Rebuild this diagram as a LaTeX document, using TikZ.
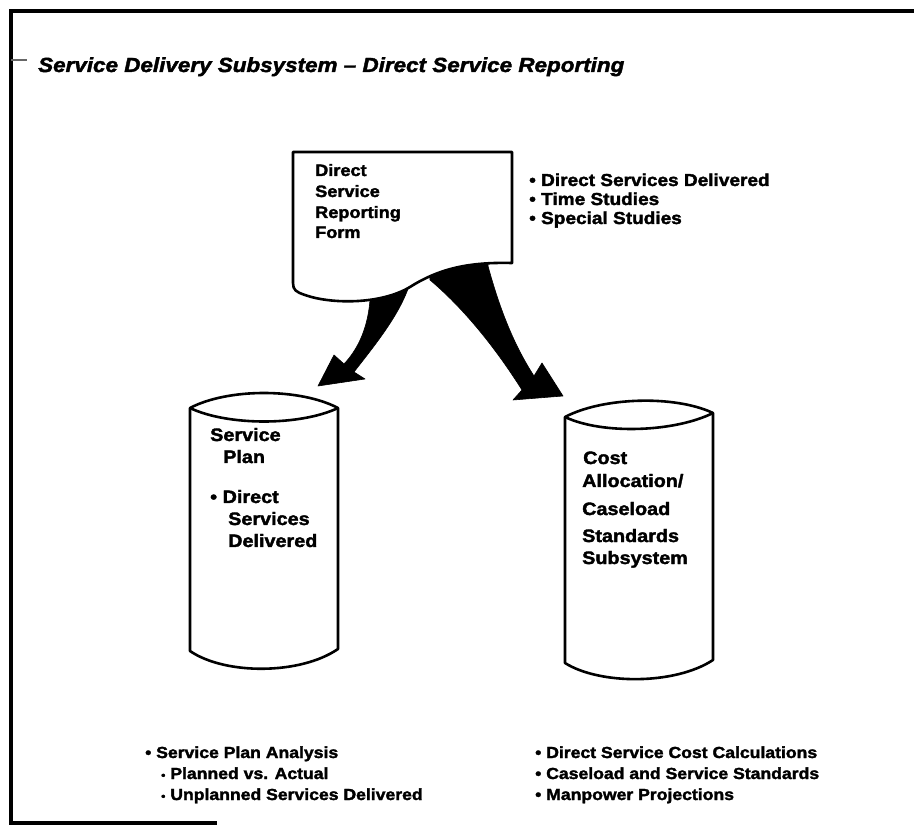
\documentclass[tikz,border=0pt]{standalone}
\usepackage{fontspec}
\setmainfont{Liberation Sans}[BoldFeatures={FakeStretch=1.1,FakeBold=2},BoldItalicFeatures={FakeStretch=1.1,FakeBold=2}]
\usetikzlibrary{arrows.meta}
\begin{document}
\begin{tikzpicture}[x=1pt,y=-1pt,
  outline/.style={line width=2.6pt,line join=round},
  framerule/.style={line width=3.2pt},
  boxtxt/.style={anchor=base west,inner sep=0pt,font=\bfseries\fontsize{18}{20}\selectfont},
  formtxt/.style={anchor=base west,inner sep=0pt,font=\bfseries\fontsize{16.5}{20}\selectfont},
  sidetxt/.style={anchor=base west,inner sep=0pt,font=\bfseries\fontsize{17.3}{19}\selectfont},
  listtxt/.style={anchor=base west,inner sep=0pt,font=\bfseries\fontsize{16}{18}\selectfont},
  bigarrow/.style={fill=black,draw=black,line width=0.6pt,line join=round}]
\useasboundingbox (0,0) rectangle (914,826);
\fill[white] (0,0) rectangle (914,826);

% page frame
\draw[framerule] (11,823) -- (11,11) -- (914,11);
\draw[framerule] (9,823) -- (217,823);
\draw[line width=1.4pt,black!60] (11,60) -- (27,60);

% title
\node[anchor=base west,inner sep=0pt,font=\bfseries\itshape\fontsize{20.4}{24}\selectfont] (title) at (38,72)
  {Service Delivery Subsystem – Direct Service Reporting};

% curved arrows leaving the form
\coordinate (lefttip) at (318,386);
\coordinate (righttip) at (563,396);
\fill[bigarrow] (368,255) -- (370,300) .. controls (368,325) and (360,347) .. (344,364)
  -- (334,355) -- (lefttip) -- (365,379) -- (354,372)
  .. controls (375,345) and (397,318) .. (408,289) -- (408,255) -- cycle;
\fill[bigarrow] (428,255) -- (430,280) .. controls (468,312) and (500,355) .. (522,390)
  -- (513,400) -- (righttip) -- (542,363) -- (534,376)
  .. controls (514,345) and (500,310) .. (488,266) -- (488,255) -- cycle;

% document shape
\draw[outline,fill=white] (293,152) -- (512,152) -- (512,263)
  .. controls (470,262) and (440,268) .. (410,287)
  .. controls (380,305) and (330,304) .. (305,295)
  .. controls (296,292) and (293,290) .. (293,283) -- cycle;
\node[formtxt] (f1) at (315,176) {Direct};
\node[formtxt] (f2) at (315,197) {Service};
\node[formtxt] (f3) at (315,218) {Reporting};
\node[formtxt] (f4) at (315,238) {Form};

% list beside the form
\node[sidetxt] (r1) at (529,186) {• Direct Services Delivered};
\node[sidetxt] (r2) at (529,205) {• Time Studies};
\node[sidetxt] (r3) at (529,224) {• Special Studies};

% service plan store
\draw[outline,fill=white] (190,408) -- (190,651) .. controls (225,675) and (300,675) .. (338,649)
  -- (338,408) .. controls (300,388) and (228,388) .. (190,408) -- cycle;
\draw[outline] (190,408) .. controls (228,426) and (300,426) .. (338,408);
\node[boxtxt] (s1) at (210,441) {Service};
\node[boxtxt] (s2) at (223,463) {Plan};
\node[boxtxt] (s3) at (210,503) {• Direct};
\node[boxtxt] (s4) at (228,525) {Services};
\node[boxtxt] (s5) at (228,547) {Delivered};

% cost allocation store
\draw[outline,fill=white] (565,417) -- (565,663) .. controls (600,685) and (675,685) .. (713,660)
  -- (713,413) .. controls (675,395) and (603,397) .. (565,417) -- cycle;
\draw[outline] (565,417) .. controls (603,435) and (675,432) .. (713,413);
\node[boxtxt] (c1) at (583,464) {Cost};
\node[boxtxt] (c2) at (582,487) {Allocation/};
\node[boxtxt] (c3) at (582,515) {Caseload};
\node[boxtxt] (c4) at (582,542) {Standards};
\node[boxtxt] (c5) at (582,564) {Subsystem};

% outputs
\node[listtxt] (l1) at (145,758) {• Service Plan Analysis};
\node[listtxt] (l2) at (161,779) {{\fontsize{11}{11}\selectfont•} Planned vs. Actual};
\node[listtxt] (l3) at (161,800) {{\fontsize{11}{11}\selectfont•} Unplanned Services Delivered};
\node[listtxt] (o1) at (535,758) {• Direct Service Cost Calculations};
\node[listtxt] (o2) at (535,779) {• Caseload and Service Standards};
\node[listtxt] (o3) at (535,800) {• Manpower Projections};
\end{tikzpicture}
\end{document}
